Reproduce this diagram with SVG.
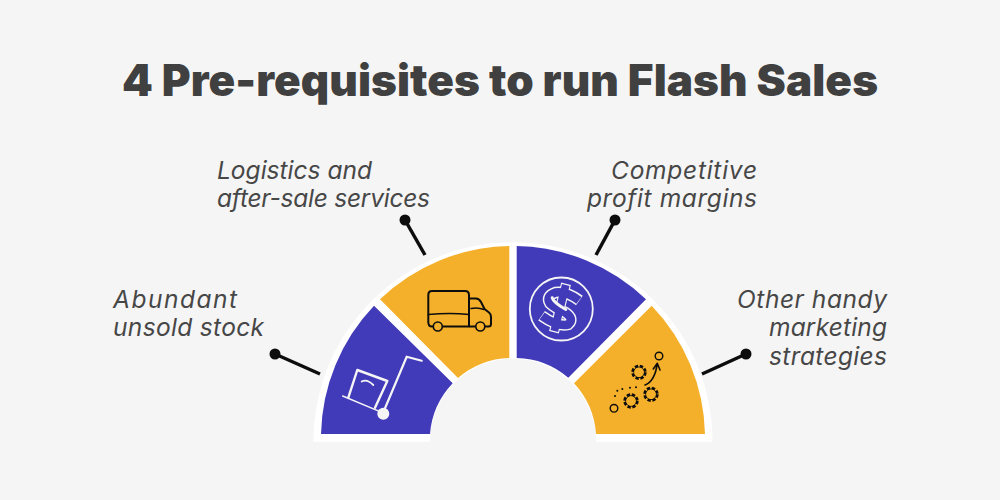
<svg xmlns="http://www.w3.org/2000/svg" width="1000" height="500" viewBox="0 0 1000 500">
<style>
.title{font-family:"Inter","Liberation Sans",sans-serif;font-weight:900;font-size:44px;fill:#404040}
.lab{font-family:"Inter","Open Sans","Liberation Sans",sans-serif;font-style:italic;font-size:24.5px;fill:#474747}
.end{text-anchor:end}
.conn{stroke:#0d0d0d;stroke-width:3.5;fill:none}
.purple{fill:#423bb9}.yellow{fill:#f4b02a}
.w{fill:none;stroke:#f5f5f5;stroke-linecap:round;stroke-linejoin:round}
.k{fill:none;stroke:#0d0d0d;stroke-linecap:round;stroke-linejoin:round}
</style>
<defs>
<g id="gear"><circle r="6.300" fill="none" stroke="#0d0d0d" stroke-width="2.800" stroke-dasharray="3.300 1.650"/><circle r="4.900" fill="#f4b02a"/><circle r="5.300" fill="none" stroke="#0d0d0d" stroke-width="0.900"/><circle r="4.600" fill="#f4b02a"/></g>
</defs>
<rect width="1000" height="500" fill="#f5f5f5"/>
<text class="title" x="500" y="96" text-anchor="middle" textLength="756" lengthAdjust="spacing">4 Pre-requisites to run Flash Sales</text>
<g id="connectors">
<line class="conn" x1="275" y1="354" x2="320" y2="374"/><circle cx="275" cy="354" r="5.500" fill="#0d0d0d"/>
<line class="conn" x1="405" y1="220" x2="425" y2="255"/><circle cx="405" cy="220" r="5.500" fill="#0d0d0d"/>
<line class="conn" x1="615" y1="220" x2="596" y2="255"/><circle cx="615" cy="220" r="5.500" fill="#0d0d0d"/>
<line class="conn" x1="746" y1="354" x2="702" y2="374"/><circle cx="746" cy="354" r="5.500" fill="#0d0d0d"/>
</g>
<path id="ring" fill="#fff" d="M313.500 441.700A199.500 199.500 0 0 1 712.500 441.700H596A83 83 0 0 0 430 441.700Z"/>
<g id="node-stock">
<path class="purple" d="M321 434A192 192 0 0 1 374 305.700L452.700 383.300A83 83 0 0 0 430 434Z"/>
<path class="w" stroke-width="2.400" d="M357.300 370L387.300 381L375 407.700M357.300 370L348.300 397.700"/>
<path class="w" stroke-width="1.400" d="M342.700 396L380 411.700"/>
<path class="w" stroke-width="2.200" d="M385 408.300L406.700 356.700L421.700 360.700"/>
<path class="w" stroke-width="1.800" d="M361.700 381.500Q367 378.500 373.300 385"/>
<circle cx="383.300" cy="413.700" r="6" fill="#f5f5f5"/>
<text class="lab" x="113" y="308" textLength="124" lengthAdjust="spacing">Abundant</text>
<text class="lab" x="113" y="336" textLength="151" lengthAdjust="spacing">unsold stock</text>
</g>
<g id="node-logistics">
<path class="yellow" d="M509.300 246A192 192 0 0 0 380 299.300L458 378A83 83 0 0 1 509.300 358Z"/>
<path class="k" stroke-width="2" d="M469 326.500H432Q428.300 326.500 428.300 322V295Q428.300 291 432 291H465Q469 291 469 295Z"/>
<path class="k" stroke-width="1.600" d="M428.300 314.500Q450 312.500 469 314.500"/>
<path class="k" stroke-width="2" d="M469.500 298.500H476Q479 298.500 481 302L484.500 309L489 312.500Q491 314 491 317V324Q491 326.500 488.500 326.500H469.500"/>
<path class="k" stroke-width="1.500" d="M471 308.500Q478 307 484 309.500"/>
<circle class="k" stroke-width="1.600" cx="437.800" cy="326.500" r="4.500" style="fill:#f4b02a"/>
<circle class="k" stroke-width="1.600" cx="480.300" cy="326.500" r="4.500" style="fill:#f4b02a"/>
<text class="lab" x="217" y="179" textLength="155" lengthAdjust="spacing">Logistics and</text>
<text class="lab" x="217" y="207" textLength="213" lengthAdjust="spacing">after-sale services</text>
</g>
<g id="node-profit">
<path class="purple" d="M516.700 246A192 192 0 0 1 646 299.300L568.300 377.700A83 83 0 0 0 516.700 358Z"/>
<circle cx="561.300" cy="309" r="31.500" fill="none" stroke="#f5f5f5" stroke-width="1.800"/>
<g transform="rotate(14 560 308)">
<path fill="none" stroke="#f5f5f5" stroke-width="10" d="M560 283V333"/>
<path fill="none" stroke="#f5f5f5" stroke-width="11.500" d="M577 296Q562 290 552 294Q543 300 549 306Q555 309.500 566 311Q577 315 572 322Q562 327 544 320"/>
<path fill="none" stroke="#423bb9" stroke-width="7.800" d="M560 284.300V331.700"/>
<path fill="none" stroke="#423bb9" stroke-width="8.600" d="M576.500 296Q562 290 552 294Q543 300 549 306Q555 309.500 566 311Q577 315 572 322Q562 327 544.500 320"/>
<path fill="none" stroke="#f5f5f5" stroke-width="3" stroke-linecap="round" d="M550 300Q552 304 566 308"/>
</g>
<text class="lab end" x="757" y="179" textLength="146" lengthAdjust="spacing">Competitive</text>
<text class="lab end" x="757" y="207" textLength="170" lengthAdjust="spacing">profit margins</text>
</g>
<g id="node-strategies">
<path class="yellow" d="M651.700 305.700A192 192 0 0 1 705 434H596A83 83 0 0 0 574 383.300Z"/>
<circle class="k" stroke-width="1.400" cx="614" cy="408.300" r="3.800"/>
<circle class="k" stroke-width="1.400" cx="659" cy="356" r="3.800"/>
<use href="#gear" x="631" y="401"/><use href="#gear" x="651" y="394.300"/><use href="#gear" x="639" y="372.300"/>
<g fill="#0d0d0d"><circle cx="615" cy="396" r="1"/><circle cx="617.300" cy="390.700" r="1"/><circle cx="622.300" cy="389" r="1"/><circle cx="630" cy="387.700" r="1"/><circle cx="636" cy="387.300" r="1"/></g>
<path class="k" stroke-width="1.600" d="M645 385Q655 381 657.300 363.300M653.300 369L657.300 363.300L660 370"/>
<text class="lab end" x="887" y="308" textLength="150" lengthAdjust="spacing">Other handy</text>
<text class="lab end" x="887" y="336" textLength="118" lengthAdjust="spacing">marketing</text>
<text class="lab end" x="887" y="365" textLength="118" lengthAdjust="spacing">strategies</text>
</g>
</svg>
